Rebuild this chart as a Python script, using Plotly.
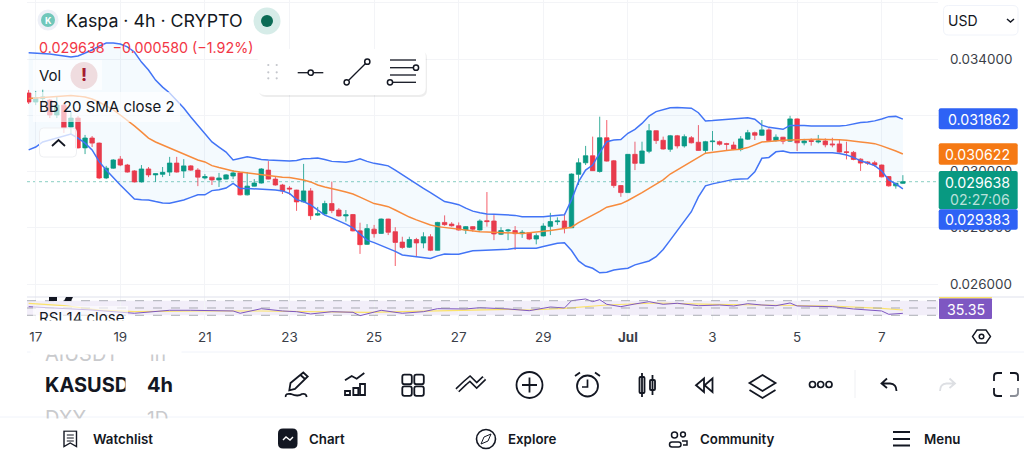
import re

import numpy as np
import pandas as pd
import plotly.graph_objects as go

# all prices below are in millionths of a USD
open_px = [32790, 32470, 32600, 32540, 32010, 32360, 31580, 31900, 30840, 31190,
           31010, 29770, 30120, 30440, 30230, 30020, 29630, 30090, 29880, 29900,
           29980, 30300, 30020, 30200, 30050, 29770, 29800, 29700, 29730, 29840,
           29950, 29170, 29480, 29590, 30050, 29730, 29520, 29410, 29340, 28920,
           29310, 28450, 28490, 28860, 28630, 28420, 28470, 27890, 27410, 27950,
           27800, 28310, 27860, 27490, 27310, 27580, 27460, 27680, 27200, 28190,
           28130, 28070, 27920, 28040, 27920, 28250, 28240, 27770, 27890, 27900,
           27790, 27820, 27600, 27710, 28050, 28215, 28240, 28000, 29900, 30310,
           30560, 30000, 31200, 30380, 29500, 29250, 30610, 30290, 30720, 31450,
           31110, 30790, 31270, 30910, 31200, 31040, 30750, 31060, 31060, 30990,
           30940, 30790, 31150, 31380, 31290, 31480, 31100, 31220, 31080, 31870,
           31020, 31100, 31050, 31085, 30980, 30980, 30700, 30680, 30440, 30340,
           30310, 30230, 29820, 29490, 29580]
high_px = [32900, 32860, 32930, 32580, 32650, 32440, 32120, 31970, 31300, 31260,
           31030, 30200, 30440, 30550, 30270, 30050, 30230, 30160, 29930, 30160,
           30520, 30520, 30440, 30230, 30120, 29910, 29810, 29950, 29910, 30050,
           29960, 29980, 29730, 30120, 30370, 29840, 29560, 29480, 29350, 30270,
           29410, 28740, 28960, 29640, 28700, 28630, 28490, 28180, 28130, 28100,
           28330, 28320, 28020, 27680, 27680, 27640, 27840, 27770, 28210, 28440,
           28200, 28190, 28060, 28060, 28300, 29270, 28450, 28020, 27960, 28060,
           27920, 27840, 27800, 28160, 28530, 28370, 28510, 29930, 30470, 30910,
           31240, 31950, 31830, 30410, 29520, 30620, 31060, 31060, 31690, 31460,
           31240, 31300, 31300, 31320, 31260, 31650, 31090, 31440, 31100, 31020,
           31060, 31260, 31480, 31420, 31830, 31540, 31320, 31230, 31980, 31890,
           31160, 31180, 31300, 31180, 31200, 31120, 31060, 30730, 30470, 30370,
           30380, 30250, 29840, 29600, 29870]
low_px = [32400, 32360, 32470, 31900, 31900, 31370, 31300, 30820, 30620, 30870,
          29730, 29730, 30100, 30190, 29960, 29610, 29610, 29800, 29630, 29800,
          29840, 29960, 29770, 30020, 29480, 29720, 29520, 29450, 29720, 29730,
          29150, 29150, 29470, 29570, 29720, 29500, 29200, 29170, 28600, 28900,
          28280, 28420, 28470, 28520, 28400, 28220, 27870, 27070, 27390, 27650,
          27780, 27740, 26640, 27250, 27280, 26970, 27270, 27170, 27190, 28070,
          28040, 27900, 27780, 27860, 27900, 28040, 27560, 27740, 27560, 27210,
          27640, 27560, 27410, 27690, 27740, 28100, 27800, 27990, 29520, 30230,
          30020, 29960, 30350, 29420, 29100, 29240, 30050, 30280, 30650, 30980,
          30780, 30700, 30820, 30850, 31000, 30740, 30620, 30740, 30920, 30760,
          30760, 30720, 31120, 31120, 31260, 31070, 31060, 30970, 31060, 30730,
          30930, 30920, 31000, 30860, 30860, 30670, 30430, 30400, 30020, 30230,
          30170, 29790, 29460, 29390, 29560]
close_px = [32470, 32630, 32650, 32010, 32360, 31550, 31900, 30840, 31190, 31010,
            29770, 30120, 30410, 30230, 29980, 29630, 30090, 29880, 29920, 29970,
            30300, 29980, 30200, 30050, 29800, 29820, 29700, 29770, 29880, 29950,
            29170, 29480, 29590, 30090, 29730, 29520, 29310, 29380, 28920, 29310,
            28430, 28500, 28860, 28610, 28420, 28460, 27890, 27400, 27970, 27790,
            28310, 27840, 27480, 27300, 27580, 27460, 27680, 27200, 28190, 28110,
            28070, 27920, 28040, 27950, 28240, 28220, 27780, 27900, 27920, 27790,
            27840, 27600, 27720, 28060, 28220, 28240, 27990, 29910, 30310, 30560,
            30030, 31200, 30370, 29500, 29250, 30610, 30290, 30730, 31450, 31100,
            30800, 31270, 30910, 31240, 31020, 30750, 31060, 31080, 30970, 30970,
            30790, 31160, 31380, 31290, 31480, 31100, 31220, 31080, 31870, 31020,
            31085, 31070, 31085, 30950, 30950, 30690, 30680, 30430, 30300, 30300,
            30230, 29810, 29490, 29580, 29638]
bb_upper = [34220, 34210, 34200, 34180, 34140, 34110, 34070, 34110, 34210, 34320,
            34460, 34570, 34570, 34530, 34430, 34250, 33890, 33610, 33250, 33000,
            32790, 32540, 32260, 31940, 31650, 31370, 31050, 30870, 30690, 30410,
            30460, 30520, 30480, 30430, 30410, 30390, 30390, 30370, 30390, 30450,
            30460, 30480, 30430, 30360, 30345, 30330, 30370, 30450, 30360, 30290,
            30250, 30200, 30050, 29880, 29730, 29560, 29400, 29250, 29080, 28930,
            28880, 28820, 28700, 28590, 28530, 28490, 28480, 28470, 28460, 28440,
            28390, 28390, 28390, 28390, 28420, 28440, 28460, 28990, 29640, 30050,
            30230, 30660, 31060, 31120, 31140, 31360, 31500, 31710, 31970, 32130,
            32210, 32270, 32280, 32270, 32250, 32090, 31800, 31810, 31830, 31840,
            31860, 31890, 31910, 31860, 31650, 31570, 31540, 31500, 31640, 31650,
            31640, 31620, 31620, 31610, 31610, 31620, 31640, 31690, 31740, 31760,
            31800, 31870, 31950, 31960, 31862]
bb_basis = [32600, 32620, 32640, 32650, 32670, 32680, 32700, 32680, 32650, 32580,
            32470, 32330, 32190, 32010, 31830, 31620, 31410, 31190, 31050, 30940,
            30840, 30730, 30620, 30520, 30410, 30340, 30210, 30140, 30070, 30020,
            29980, 29950, 29910, 29880, 29860, 29840, 29800, 29790, 29750, 29700,
            29630, 29520, 29450, 29380, 29330, 29270, 29200, 29090, 28970, 28860,
            28810, 28750, 28630, 28490, 28380, 28280, 28190, 28100, 28040, 28010,
            27980, 27950, 27910, 27870, 27860, 27850, 27840, 27830, 27810, 27810,
            27800, 27820, 27840, 27860, 27900, 27940, 27980, 28020, 28180, 28310,
            28430, 28580, 28730, 28790, 28850, 28970, 29100, 29250, 29400, 29560,
            29700, 29910, 30050, 30200, 30340, 30500, 30650, 30690, 30730, 30750,
            30770, 30790, 30850, 30940, 31050, 31070, 31100, 31110, 31120, 31130,
            31140, 31150, 31150, 31140, 31140, 31130, 31110, 31090, 31050, 31020,
            30990, 30910, 30830, 30730, 30622]
bb_lower = [30770, 30870, 31050, 31120, 31210, 31260, 31330, 31190, 31010, 30770,
            30350, 30050, 29770, 29520, 29270, 29020, 29000, 28990, 28930, 28880,
            28870, 28920, 28990, 29080, 29170, 29170, 29320, 29350, 29410, 29580,
            29400, 29400, 29390, 29380, 29360, 29340, 29310, 29220, 29000, 28930,
            28810, 28630, 28450, 28350, 28250, 28130, 28000, 27780, 27560, 27470,
            27370, 27280, 27160, 27030, 27000, 26970, 26940, 26910, 27000, 27070,
            27060, 27060, 27120, 27180, 27190, 27200, 27210, 27230, 27240, 27270,
            27270, 27270, 27270, 27330, 27390, 27450, 27470, 27190, 26820, 26640,
            26560, 26400, 26420, 26500, 26530, 26560, 26680, 26750, 26820, 26970,
            27230, 27560, 27890, 28220, 28570, 29100, 29490, 29560, 29620, 29660,
            29720, 29730, 29740, 29990, 30470, 30500, 30700, 30730, 30670, 30670,
            30670, 30670, 30670, 30670, 30670, 30640, 30590, 30500, 30380, 30300,
            30210, 30020, 29700, 29560, 29383]

# RSI was only readable at these bars
rsi_bars = [0, 5, 9, 15, 20, 23, 26, 29, 30, 33, 36, 38, 40, 41, 43, 46, 47, 50, 53, 56,
            58, 62, 64, 68, 71, 74, 76, 77, 79, 80, 81, 82, 84, 86, 88, 90, 92, 95, 98,
            100, 102, 104, 106, 108, 109, 114, 117, 121, 122, 124]
rsi_vals = [53.6, 49.2, 44.5, 35.5, 43.7, 43.7, 41.8, 41.8, 35.5, 48.1, 41.8, 39.9, 33.6, 35.5,
            39.9, 38.2, 28.9, 43.7, 35.5, 39.9, 48.1, 47.3, 50.8, 47.3, 42.6, 52.7, 50.0, 70.0,
            74.7, 67.3, 72.7, 60.1, 53.6, 61.0, 67.3, 60.1, 62.9, 56.3, 58.2, 55.5, 61.8, 58.2,
            56.3, 63.7, 55.5, 53.6, 47.3, 41.8, 32.7, 35.35]
rsi_ma_bars = [0, 5, 10, 15, 24, 33, 48, 57, 68, 71, 76, 82, 89, 97, 106, 114, 121, 124]
rsi_ma_vals = [62.9, 56.3, 44.5, 39.9, 41.8, 41.8, 38.2, 41.8, 46.4, 44.5, 49.2, 58.2, 63.7,
               60.1, 58.2, 55.5, 49.2, 44.5]

tick_days = pd.date_range("2023-06-17", "2023-07-07", freq="2D")
tick_labels = ["17", "19", "21", "23", "25", "27", "29", "<b>Jul</b>", "3", "5", "7"]
price_ticks = [0.026, 0.028, 0.030, 0.032, 0.034, 0.036]
# 0.032 and 0.036 sit behind the price tag and the currency box, only their gridlines show
price_tick_text = ["0.026000", "0.028000", "0.030000", "", "0.034000", ""]

RED = "#F23645"
GREEN = "#089981"
BLUE = "#4274F6"
ORANGE = "#F78B3D"
PURPLE = "#7E57C2"
YELLOW = "#FBE36B"
FONT = "Inter"
INK = "#131722"

dates = pd.date_range("2023-06-16 20:00", periods=len(close_px), freq="4h")


def price(values):
    return np.array(values) / 1e6


def xp(x):
    return x / 1024


def yp(y):
    return 1 - y / 461


shapes = []
notes = []


def path(d, color=INK, width=1.6, fill=None):
    # d is written in screen pixels, turn every x y pair into paper coordinates
    out = []
    is_x = True
    for tok in re.findall(r"[MLQCZ]|-?[\d.]+", d):
        if tok.isalpha():
            out.append(tok)
        else:
            out.append(str(xp(float(tok)) if is_x else yp(float(tok))))
            is_x = not is_x
    shapes.append(dict(type="path", xref="paper", yref="paper", path=" ".join(out),
                       line=dict(color=color, width=width), fillcolor=fill))


def box(x0, y0, x1, y1, r=0, color="rgba(0,0,0,0)", width=0, fill="white"):
    d = (f"M {x0 + r} {y0} L {x1 - r} {y0} Q {x1} {y0} {x1} {y0 + r} L {x1} {y1 - r} "
         f"Q {x1} {y1} {x1 - r} {y1} L {x0 + r} {y1} Q {x0} {y1} {x0} {y1 - r} "
         f"L {x0} {y0 + r} Q {x0} {y0} {x0 + r} {y0} Z")
    path(d, color, width, fill)


def dot(cx, cy, r, fill="white", color=INK, width=1.5):
    shapes.append(dict(type="circle", xref="paper", yref="paper",
                       x0=xp(cx - r), x1=xp(cx + r), y0=yp(cy + r), y1=yp(cy - r),
                       line=dict(color=color, width=width), fillcolor=fill))


def label(x, y, text, size=14, color=INK, anchor="left", weight=400):
    notes.append(dict(x=xp(x), y=yp(y), xref="paper", yref="paper", text=text, showarrow=False,
                      xanchor=anchor, yanchor="middle", borderpad=0,
                      font=dict(family=FONT, size=size, color=color, weight=weight)))


def mask(x0, y0, x1, y1):
    notes.append(dict(x=xp(x0), y=yp(y0), xref="paper", yref="paper", text=" ", showarrow=False,
                      xanchor="left", yanchor="top", width=x1 - x0, height=y1 - y0, borderpad=0,
                      bgcolor="white", font=dict(size=1)))


fig = go.Figure()

# Bollinger bands
fig.add_trace(go.Scatter(x=dates, y=price(bb_upper), mode="lines", line=dict(color=BLUE, width=1.5)))
fig.add_trace(go.Scatter(x=dates, y=price(bb_lower), mode="lines", line=dict(color=BLUE, width=1.5),
                         fill="tonexty", fillcolor="rgba(33,150,243,0.05)"))
fig.add_trace(go.Scatter(x=dates, y=price(bb_basis), mode="lines", line=dict(color=ORANGE, width=1.5)))

fig.add_trace(go.Candlestick(x=dates, open=price(open_px), high=price(high_px),
                             low=price(low_px), close=price(close_px), whiskerwidth=0,
                             increasing=dict(line=dict(color=GREEN, width=0.8), fillcolor=GREEN),
                             decreasing=dict(line=dict(color=RED, width=0.8), fillcolor=RED)))

# RSI panel
fig.add_trace(go.Scatter(x=dates[rsi_ma_bars], y=rsi_ma_vals, mode="lines", xaxis="x2", yaxis="y2",
                         line=dict(color=YELLOW, width=1.2)))
fig.add_trace(go.Scatter(x=dates[rsi_bars], y=rsi_vals, mode="lines", xaxis="x2", yaxis="y2",
                         line=dict(color=PURPLE, width=1)))

shapes.append(dict(type="rect", xref="x2 domain", yref="y2", x0=0, x1=1, y0=30, y1=70, layer="below",
                   fillcolor="rgba(126,87,194,0.1)", line=dict(width=0)))
for level in [30, 50, 70]:
    shapes.append(dict(type="line", xref="x2 domain", yref="y2", x0=0, x1=1, y0=level, y1=level,
                       line=dict(color="#9598A1", width=0.8, dash="dash")))

# last price line
shapes.append(dict(type="line", xref="x domain", yref="y", x0=0, x1=1,
                   y0=close_px[-1] / 1e6, y1=close_px[-1] / 1e6, layer="below",
                   line=dict(color="rgba(8,153,129,0.6)", width=0.8, dash="dot")))

# panel separators
path("M 27 297 L 1024 297", "#DFE1EC", 1)
path("M 27 352 L 1024 352", "#F0F3FA", 1)
path("M 0 417 L 1024 417", "#F0F3FA", 1)

# faded backdrops behind the legend rows
box(33, 60, 102, 90, fill="rgba(255,255,255,0.65)")
box(33, 92, 180, 122, fill="rgba(255,255,255,0.65)")

# legend
dot(48, 20, 10.5, "#EDF0F7", "#EDF0F7", 0)
dot(48, 20, 7, "#70C7BA", "#70C7BA", 0)
label(48, 20, "K", 9, "white", "center", 700)
label(65, 20, "Kaspa · 4h · CRYPTO", 17.8)
dot(267, 21, 13.5, "#D6ECE8", "#D6ECE8", 0)
dot(267, 21, 6, "#0B6B55", "#0B6B55", 0)
label(37.5, 47.5, "0.029638  −0.000580 (−1.92%)", 14.3, RED)
label(38, 75, "Vol", 15)
dot(84, 75.5, 13.5, "#EFDCDF", "#EFDCDF", 0)
label(84, 75.5, "!", 17, "#A51C30", "center", 800)
label(38, 106.5, "BB 20 SMA close 2", 15)
box(39.5, 128, 76.5, 157, 4, "#EEEFF2", 1, "rgba(255,255,255,0.75)")
path("M 52 146 L 58.5 140 L 65 146", INK, 1.8)

# floating drawing toolbar
box(259, 51, 427, 97, 7, fill="rgba(0,0,0,0.07)")
box(257.7, 49, 425.7, 95, 7)
for dx in [268.3, 276.7]:
    for dy in [65, 72.3, 78.3]:
        dot(dx, dy, 1.1, "#C4C6CC", "#C4C6CC", 0)
path("M 297.7 72.7 L 323.3 72.7", INK, 1.3)
dot(310.7, 72.7, 2.6)
path("M 346.7 82.3 L 367.3 61.7", INK, 1.3)
dot(346.7, 82.3, 2.6)
dot(367.3, 61.7, 2.6)
for line_y, x0, x1 in [(60, 390, 416), (67.7, 390, 414), (75, 390, 416), (82.3, 392, 416)]:
    path(f"M {x0} {line_y} L {x1} {line_y}", INK, 1.3)
dot(416, 67.7, 2.6)
dot(390, 82.3, 2.6)

# currency selector
box(943.5, 5.5, 1018, 35, 5, "#F0F3FA", 1)
label(947, 20, "USD", 14)
path("M 1007 19 L 1010.5 22 L 1014 19", INK, 1.5)

# price tags on the right axis
box(938.7, 108.3, 1017.7, 129.3, 2, fill="#2E62F5")
label(1011, 119, "0.031862", 14.2, "white", "right")
box(938.7, 143.3, 1017.7, 164.7, 2, fill="#F57914")
label(1011, 154, "0.030622", 14.2, "white", "right")
box(938.7, 171, 1017.7, 209.3, 2, fill=GREEN)
label(1011, 182, "0.029638", 14.2, "white", "right")
label(1011, 199.5, "02:27:06", 14.2, "rgba(255,255,255,0.72)", "right")
box(938.7, 209.3, 1017.7, 229.7, 2, fill="#2E62F5")
label(1011, 219.5, "0.029383", 14.2, "white", "right")
box(939, 298.3, 992, 319, 1, fill=PURPLE)
path("M 939 297.6 L 992 297.6", YELLOW, 1.2)
label(986, 309, "35.35", 14.2, "white", "right")

# RSI legend, cut by the bottom of its pane
box(33, 306, 128, 320, fill="rgba(255,255,255,0.6)")
label(38, 317, "RSI 14 close", 15)
mask(30, 320, 140, 327)
box(49, 297, 57, 301, fill=INK)
path("M 66 297 L 73 297 L 71 301 L 64 301 Z", INK, 0, INK)

# settings hexagon
path("M 977 330 L 986 330 L 990.5 336.5 L 986 343 L 977 343 L 972.5 336.5 Z", INK, 1.4)
dot(981.5, 336.5, 2.3)

# symbol picker wheel
label(44, 354, "AIUSDT", 20, "#C9CACD")
label(146, 354, "1h", 19, "#C9CACD")
mask(30, 341, 180, 353)
label(44, 385, "KASUSD", 20, "#131722", weight=700)
mask(125, 374, 142, 396)
label(146, 385, "4h", 20, "#131722", weight=700)
label(44, 418, "DXY", 20, "#C9CACD")
label(146, 418, "1D", 19, "#C9CACD")
mask(30, 417.5, 180, 428)

# bottom toolbar icons
path("M 289.3 390.3 L 290.5 383 L 303.3 372.5 L 307.7 376.5 L 295 389 Z M 300.5 375 L 305 379", INK, 1.8)
path("M 285.7 397 Q 285 393 291 394 Q 298 397 302 394 Q 306 393 306.7 397", INK, 1.8)
path("M 345 380.3 L 351.7 376 L 356.7 378.7 L 364.3 373", INK, 1.8)
box(345, 391, 350, 395, color=INK, width=1.8)
box(353.3, 388, 358.3, 395, color=INK, width=1.8)
box(360, 384, 365, 395, color=INK, width=1.8)
for sx in [402.3, 414.3]:
    for sy in [374.7, 386.3]:
        box(sx, sy, sx + 9.5, sy + 9.5, 2, INK, 1.8)
path("M 457.3 390.3 L 465 383 L 470 378.7 L 476.7 385.3 L 484.3 378", INK, 5.6)
path("M 457.3 390.3 L 465 383 L 470 378.7 L 476.7 385.3 L 484.3 378", "white", 2.4)
dot(529.5, 385, 13, "white", INK, 1.8)
path("M 522 385 L 537 385 M 529.5 377.5 L 529.5 392.5", INK, 1.8)
dot(587.5, 386, 10.5, "white", INK, 1.8)
path("M 587.5 379.5 L 587.5 387 L 582 387", INK, 1.7)
path("M 575 376 L 580 372.5 M 600 376 L 595 372.5", INK, 1.8)
box(639.5, 377, 644.5, 393, 1, INK, 1.8)
box(650, 380, 655, 390, 1, INK, 1.8)
path("M 642 373 L 642 397 M 652.5 375 L 652.5 395", INK, 1.8)
path("M 704 378.5 L 696 385.2 L 704 392 Z M 712.5 378.5 L 704.5 385.2 L 712.5 392 Z", INK, 1.8)
path("M 762.5 375 L 775.5 383 L 762.5 391 L 749.5 383 Z M 749.5 390 L 762.5 398 L 775.5 390", INK, 1.8)
for ox in [812.5, 820.7, 829]:
    dot(ox, 384.5, 3, "white", INK, 1.7)
path("M 855 370 L 855 398", "#EFF0F3", 1)
path("M 887 378.5 L 881.5 383.5 L 887 388 M 881.5 383.5 L 890 383.5 Q 896.5 384 896.5 391", INK, 1.8)
path("M 949.5 378.5 L 955 383.5 L 949.5 388 M 955 383.5 L 946.5 383.5 Q 940 384 940 391", "#DDDFE3", 1.8)
path("M 994 381 L 994 376 Q 994 373 997.5 373 L 1002 373", INK, 1.8)
path("M 994 388 L 994 393 Q 994 396 997.5 396 L 1002 396", INK, 1.8)
path("M 1010 373 L 1014.5 373 Q 1018 373 1018 376 L 1018 381", INK, 1.8)
path("M 1010 396 L 1014.5 396 Q 1018 396 1018 393 L 1018 388", "#8A8E97", 1.8)

# bottom navigation
path("M 64 431 L 76.5 431 L 76.5 446.5 L 70.2 443 L 64 446.5 Z", INK, 1.4)
path("M 66.8 435 L 73.8 435 M 66.8 438 L 73.8 438 M 66.8 441 L 73.8 441", INK, 1.1)
label(92, 439, "Watchlist", 13.3, INK, weight=600)
box(278, 428.5, 297.5, 448.5, 5, fill=INK)
path("M 283 440 L 286 437 L 290 440 L 293 437", "white", 1.4)
label(308, 439, "Chart", 13.3, INK, weight=600)
dot(486, 439, 9.5, "white", INK, 1.6)
path("M 491 434 L 488 441 L 481 444 L 484 437 Z", INK, 1, "white")
label(507, 439, "Explore", 13.3, INK, weight=600)
dot(674.5, 435, 3, "white", INK, 1.5)
dot(683, 434.5, 2.4, "white", INK, 1.5)
box(669.5, 442, 681, 447, 2.5, INK, 1.5)
path("M 682 441 L 687 441 L 687 445 L 683 445", INK, 1.5)
label(699, 439, "Community", 13.3, INK, weight=600)
path("M 893 432 L 910 432 M 893 439 L 910 439 M 893 445.5 L 910 445.5", INK, 2.2)
label(923, 439, "Menu", 13.3, INK, weight=600)

fig.update_layout(
    width=1024, height=461,
    margin=dict(l=0, r=0, t=0, b=0),
    paper_bgcolor="white", plot_bgcolor="white",
    showlegend=False, hovermode=False, boxgap=0.1,
    font=dict(family=FONT, size=13.4, color="#3A3E48"),
    xaxis=dict(domain=[xp(27), xp(938)], range=["2023-06-16 19:04", "2023-07-08 07:56"],
               anchor="y", rangeslider=dict(visible=False), showticklabels=False,
               tickvals=tick_days, gridcolor="#F3F4F7", gridwidth=1, zeroline=False),
    yaxis=dict(domain=[yp(297), 1], range=[0.025538, 0.036098], anchor="x", side="right",
               tickvals=price_ticks, ticktext=price_tick_text, ticks="", ticklabelstandoff=11,
               gridcolor="#F3F4F7", gridwidth=1, zeroline=False, showline=False),
    xaxis2=dict(domain=[xp(27), xp(938)], range=["2023-06-16 19:04", "2023-07-08 07:56"],
                anchor="y2", tickvals=tick_days, ticktext=tick_labels, ticks="",
                ticklabelstandoff=8, gridcolor="#F3F4F7", gridwidth=1, zeroline=False),
    yaxis2=dict(domain=[yp(320), yp(297)], range=[17.1, 80.1], anchor="x2", side="right",
                showticklabels=False, showgrid=False, zeroline=False),
    shapes=shapes,
    annotations=notes,
)

fig.write_html("out.html", config=dict(displayModeBar=False),
               post_script="document.body.style.margin='0';document.body.style.overflow='hidden';")
